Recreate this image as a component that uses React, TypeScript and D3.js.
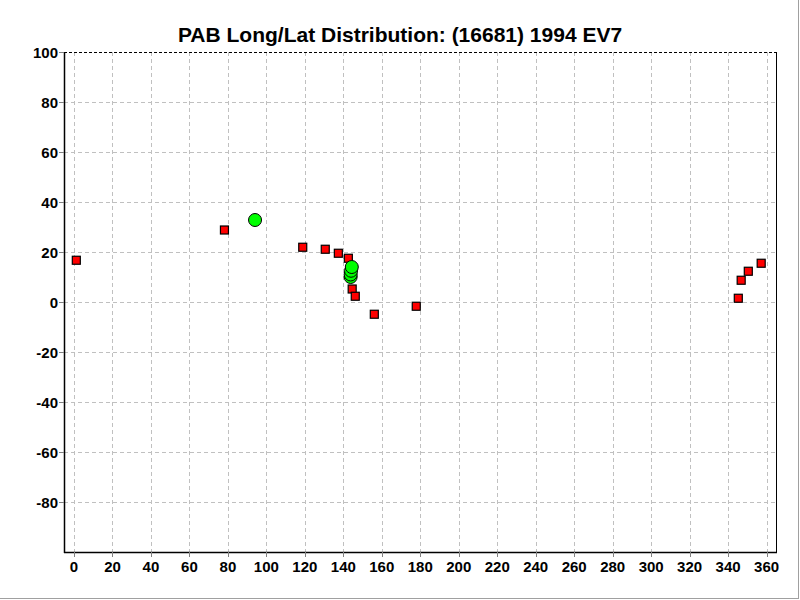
import React from "react";
import * as d3 from "d3";

const title = "PAB Long/Lat Distribution: (16681) 1994 EV7";
const xTicks = [0, 20, 40, 60, 80, 100, 120, 140, 160, 180, 200, 220, 240, 260, 280, 300, 320, 340, 360];
const yTicks = [100, 80, 60, 40, 20, 0, -20, -40, -60, -80];

// red squares: [longitude, latitude]
const squareLong = [1.2, 78.2, 118.9, 130.6, 137.4, 142.6, 144.6, 146.2, 156.1, 177.9, 345.3, 346.8, 350.5, 357.2];
const squareLat = [16.7, 28.8, 21.9, 21.1, 19.5, 17.5, 5.2, 2.3, -4.9, -1.7, 1.5, 8.7, 12.3, 15.5];

// green circles
const circleLong = [94.1, 143.8, 143.8, 144.0, 144.4];
const circleLat = [32.8, 10.0, 11.0, 12.5, 14.0];

const W = 800, H = 600;
const left = 64, right = 776, top = 52, bottom = 552;

export default function App() {
  const x = d3.scaleLinear().domain([-5.2, 364.9]).range([left, right]);
  const y = d3.scaleLinear().domain([-100, 100]).range([bottom, top]);
  const squares = squareLong.map((v, i) => ({ lon: v, lat: squareLat[i] }));
  const circles = circleLong.map((v, i) => ({ lon: v, lat: circleLat[i] }));
  const font = "Arial, 'Liberation Sans', sans-serif";
  return (
    <svg width={W} height={H} style={{ position: "absolute", left: 0, top: 0, background: "#fff" }}>
      <rect x={0} y={0} width={W} height={H} fill="#fff" />
      <line x1={798.5} y1={0} x2={798.5} y2={599} stroke="#a0a0a0" strokeWidth={1} />
      <line x1={0} y1={598.5} x2={799} y2={598.5} stroke="#a0a0a0" strokeWidth={1} />
      <text x={400} y={42} textAnchor="middle" fontFamily={font} fontWeight="bold" fontSize={21} fill="#000">{title}</text>
      {/* grid */}
      {xTicks.map((t) => (
        <line key={"gx" + t} x1={Math.round(x(t)) + 0.5} x2={Math.round(x(t)) + 0.5} y1={top} y2={bottom}
          stroke="#c0c0c0" strokeWidth={1} strokeDasharray="4,3" />
      ))}
      {yTicks.filter((t) => t !== 100).map((t) => (
        <line key={"gy" + t} x1={left} x2={right} y1={Math.round(y(t)) + 0.5} y2={Math.round(y(t)) + 0.5}
          stroke="#c0c0c0" strokeWidth={1} strokeDasharray="4,3" />
      ))}
      {/* frame */}
      <line x1={left} x2={right} y1={top + 0.5} y2={top + 0.5} stroke="#000" strokeWidth={1} strokeDasharray="3,2" />
      <line x1={right + 0.5} x2={right + 0.5} y1={top} y2={bottom} stroke="#000" strokeWidth={1} />
      <line x1={left + 0.5} x2={left + 0.5} y1={top} y2={bottom + 1} stroke="#000" strokeWidth={1.5} />
      <line x1={left} x2={right + 1} y1={bottom + 0.5} y2={bottom + 0.5} stroke="#000" strokeWidth={1.5} />
      {/* ticks */}
      {xTicks.map((t) => (
        <g key={"xt" + t}>
          <line x1={Math.round(x(t)) + 0.5} x2={Math.round(x(t)) + 0.5} y1={bottom} y2={bottom + 5} stroke="#808080" />
          <text x={x(t)} y={572} textAnchor="middle" fontFamily={font} fontWeight="bold" fontSize={15} fill="#000">{t}</text>
        </g>
      ))}
      {yTicks.map((t) => (
        <g key={"yt" + t}>
          <line x1={left - 5} x2={left} y1={Math.round(y(t)) + 0.5} y2={Math.round(y(t)) + 0.5} stroke="#808080" />
          <text x={58} y={y(t) + 6} textAnchor="end" fontFamily={font} fontWeight="bold" fontSize={15} fill="#000">{t}</text>
        </g>
      ))}
      {/* data */}
      {squares.map((d, i) => (
        <rect key={"s" + i} x={x(d.lon) - 4} y={y(d.lat) - 4} width={8} height={8} fill="#ff0000" stroke="#000" strokeWidth={1.2} />
      ))}
      {circles.map((d, i) => (
        <circle key={"c" + i} cx={x(d.lon)} cy={y(d.lat)} r={6.5} fill="#00ff00" stroke="#000" strokeWidth={1} />
      ))}
    </svg>
  );
}
